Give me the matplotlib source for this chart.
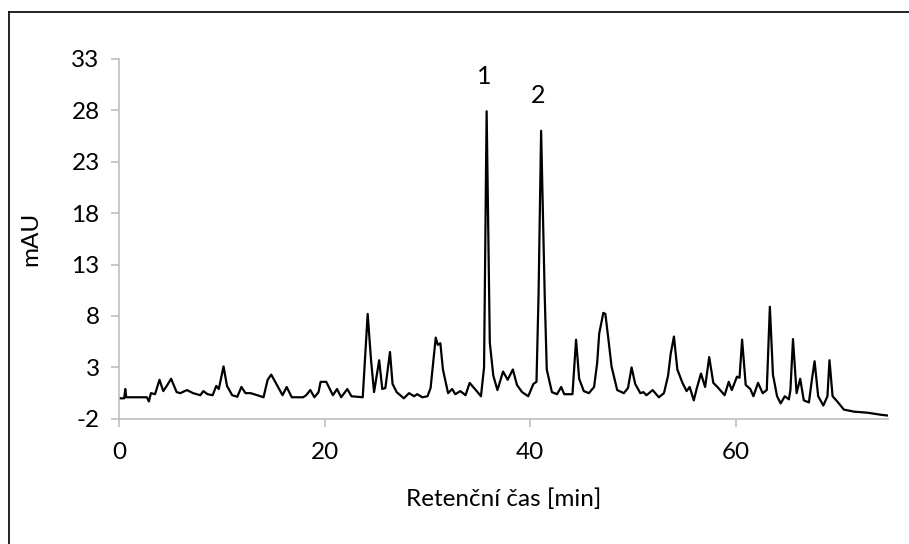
import matplotlib
matplotlib.use("Agg")
import numpy as np
from matplotlib import pyplot as plt
from matplotlib.lines import Line2D

# retention time [min] and signal [mAU]
time = [0.0, 0.5, 0.6, 0.7, 2.7, 2.9, 3.1, 3.5, 3.93, 4.3, 4.7, 5.06, 5.35, 5.6, 5.95,
        6.6, 7.2, 7.9, 8.2, 8.6, 9.1, 9.45, 9.7, 10.16, 10.5, 11.0, 11.5, 11.9, 12.3,
        12.8, 13.45, 14.05, 14.45, 14.8, 15.4, 15.9, 16.3, 16.8, 17.9, 18.2, 18.6,
        19.0, 19.4, 19.6, 20.15, 20.5, 20.8, 21.2, 21.6, 22.2, 22.6, 23.7, 24.18,
        24.5, 24.8, 25.3, 25.6, 25.9, 26.35, 26.6, 27.0, 27.7, 28.2, 28.7, 29.0,
        29.5, 30.0, 30.3, 30.8, 31.0, 31.25, 31.5, 32.0, 32.4, 32.7, 33.2, 33.7,
        34.1, 34.7, 35.2, 35.5, 35.75, 36.06, 36.4, 36.8, 37.35, 37.8, 38.3, 38.7,
        39.2, 39.8, 40.3, 40.6, 40.8, 41.05, 41.4, 41.6, 42.1, 42.6, 43.0, 43.3,
        44.1, 44.45, 44.75, 45.2, 45.7, 46.2, 46.5, 46.7, 47.1, 47.3, 47.6, 47.9,
        48.45, 49.1, 49.5, 49.85, 50.2, 50.7, 51.0, 51.3, 51.9, 52.5, 53.0, 53.4,
        53.65, 53.97, 54.3, 54.8, 55.2, 55.5, 55.9, 56.2, 56.6, 57.0, 57.4, 57.8,
        58.2, 58.9, 59.3, 59.6, 60.1, 60.35, 60.6, 60.95, 61.4, 61.7, 62.15, 62.6,
        63.0, 63.3, 63.6, 64.0, 64.35, 64.75, 65.15, 65.3, 65.55, 65.9, 66.25, 66.6,
        67.1, 67.4, 67.65, 68.0, 68.5, 68.9, 69.1, 69.4, 69.85, 70.5, 71.5, 72.8,
        74.1, 75.0]
signal = [0.0, 0.0, 0.9, 0.1, 0.1, -0.3, 0.5, 0.4, 1.8, 0.7, 1.3, 1.9, 1.2, 0.6, 0.5,
          0.8, 0.5, 0.3, 0.7, 0.4, 0.3, 1.2, 0.9, 3.1, 1.2, 0.3, 0.15, 1.1, 0.5,
          0.5, 0.3, 0.1, 1.8, 2.3, 1.2, 0.3, 1.1, 0.1, 0.1, 0.3, 0.8,
          0.1, 0.6, 1.6, 1.6, 0.9, 0.3, 0.9, 0.1, 0.9, 0.2, 0.1, 8.2,
          3.8, 0.6, 3.7, 0.9, 1.0, 4.5, 1.4, 0.6, 0.0, 0.5, 0.2, 0.4,
          0.1, 0.2, 1.0, 5.9, 5.2, 5.35, 2.8, 0.5, 0.9, 0.4, 0.7, 0.3,
          1.5, 0.8, 0.2, 3.0, 27.9, 5.4, 2.2, 0.8, 2.6, 1.8, 2.8, 1.3,
          0.6, 0.2, 1.4, 1.6, 10.0, 26.0, 10.0, 2.8, 0.6, 0.4, 1.1, 0.4,
          0.4, 5.7, 1.9, 0.7, 0.5, 1.1, 3.4, 6.3, 8.3, 8.2, 5.7, 3.1,
          0.8, 0.5, 1.0, 3.0, 1.4, 0.5, 0.6, 0.3, 0.8, 0.1, 0.5, 2.2,
          4.3, 6.0, 2.8, 1.5, 0.7, 1.1, -0.2, 1.0, 2.4, 1.1, 4.0, 1.5,
          1.1, 0.3, 1.6, 0.8, 2.1, 2.0, 5.7, 1.3, 0.9, 0.2, 1.5, 0.5,
          0.8, 8.9, 2.3, 0.2, -0.5, 0.2, -0.1, 0.8, 5.75, 0.5, 1.9, -0.2,
          -0.4, 1.9, 3.6, 0.2, -0.7, 0.2, 3.7, 0.2, -0.3, -1.1, -1.3, -1.4,
          -1.6, -1.7]

peak_labels = ["1", "2"]
peak_times = [35.75, 41.05]
peak_heights = [27.9, 26.0]

y_ticks = [-2, 3, 8, 13, 18, 23, 28, 33]
x_ticks = [0, 20, 40, 60]

plt.rcParams['font.family'] = ['Lato', 'DejaVu Sans']
plt.rcParams['axes.unicode_minus'] = False

fig = plt.figure(figsize=(9.09, 5.44), dpi=100)
ax = fig.add_axes([0.131, 0.230, 0.846, 0.662])

ax.plot(time, signal, color='black', linewidth=1.6)

for lab, t, h in zip(peak_labels, peak_times, peak_heights):
    ax.annotate(lab, (t, h), xytext=(-2, 17), textcoords='offset points',
                ha='center', va='bottom', fontsize=18)

ax.set_xlim(0, 74.8)
ax.set_ylim(-2, 33)
ax.set_xticks(x_ticks)
ax.set_yticks(y_ticks)
ax.tick_params(axis='both', labelsize=17.5, color='#bfbfbf', length=6, width=1.2)
ax.tick_params(axis='x', pad=11)
ax.tick_params(axis='y', pad=8)

for side in ['top', 'right']:
    ax.spines[side].set_visible(False)
for side in ['left', 'bottom']:
    ax.spines[side].set_color('#bfbfbf')
    ax.spines[side].set_linewidth(1.2)

ax.set_xlabel('Retenční čas [min]', fontsize=17.5, labelpad=18)
ax.set_ylabel('mAU', fontsize=17.5, labelpad=22)

# outer frame of the chart (only left and top edges visible)
fig.add_artist(Line2D([9 / 909, 9 / 909], [0, 1 - 12 / 544], transform=fig.transFigure,
                      color='black', linewidth=1.2))
fig.add_artist(Line2D([9 / 909, 1], [1 - 12 / 544, 1 - 12 / 544], transform=fig.transFigure,
                      color='black', linewidth=1.2))

fig.savefig('out.png', dpi=100)
